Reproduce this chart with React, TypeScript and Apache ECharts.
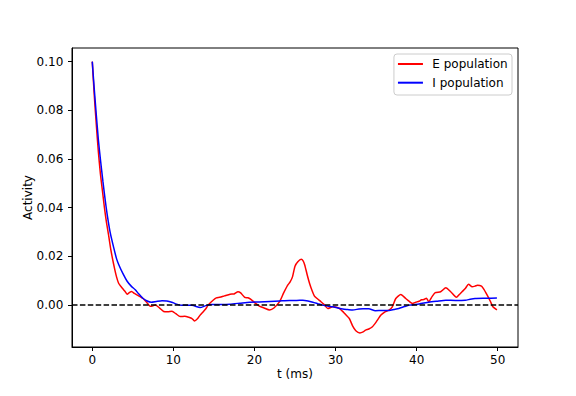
import React, { useEffect, useRef } from "react";
import * as echarts from "echarts";

const seriesNames = ["E population", "I population"];
const seriesColors = ["#ff0000", "#0000ff"];

const tE = [0, 0.25, 0.5, 0.75, 1.0, 1.25, 1.5, 1.75, 2.0, 2.25, 2.5, 2.75, 3.0, 3.25, 3.5, 3.75, 4.0, 4.3, 4.6, 4.85, 5.2, 5.5, 5.9, 6.3, 6.7, 7.16, 7.5, 7.8, 8.3, 8.8, 9.3, 9.83, 10.3, 10.85, 11.4, 11.9, 12.3, 12.6, 13.0, 13.3, 13.6, 14.0, 14.3, 14.9, 15.3, 15.7, 16.3, 17.0, 17.5, 17.97, 18.3, 18.8, 19.2, 19.6, 20.1, 20.6, 21.2, 21.87, 22.4, 23.1, 23.6, 24.1, 24.4, 24.7, 25.0, 25.35, 25.76, 26.0, 26.2, 26.5, 26.8, 27.1, 27.4, 27.8, 28.2, 28.6, 29.04, 29.65, 30.0, 30.5, 31.0, 31.3, 31.7, 32.1, 32.5, 33.0, 33.4, 33.7, 34.1, 34.55, 35.0, 35.6, 36.1, 36.6, 37.0, 37.43, 38.05, 38.66, 39.1, 39.47, 39.9, 40.3, 40.6, 40.9, 41.2, 41.5, 41.9, 42.3, 42.96, 43.6, 44.2, 44.9, 45.3, 45.6, 46.0, 46.4, 46.85, 47.2, 47.5, 48.0, 48.3, 48.7, 49.1, 49.4, 49.9];
const vE = [0.1, 0.086, 0.074, 0.063, 0.054, 0.047, 0.04, 0.034, 0.029, 0.0235, 0.019, 0.015, 0.0115, 0.009, 0.0078, 0.0068, 0.0058, 0.0045, 0.0052, 0.0056, 0.0048, 0.0042, 0.0035, 0.0026, 0.0012, -0.0005, -0.0003, 0.0001, -0.0012, -0.0026, -0.0027, -0.0025, -0.0035, -0.0047, -0.0046, -0.005, -0.0055, -0.0065, -0.0055, -0.0041, -0.003, -0.0015, 0.0001, 0.002, 0.003, 0.0032, 0.0038, 0.0045, 0.0046, 0.0055, 0.005, 0.0032, 0.003, 0.0023, 0.0008, -0.0004, -0.0012, -0.002, -0.0012, 0.0014, 0.005, 0.0082, 0.0095, 0.0117, 0.016, 0.0178, 0.0188, 0.0182, 0.0165, 0.0125, 0.0089, 0.006, 0.0037, 0.0025, 0.0014, 0.0002, -0.0014, -0.0007, -0.0008, -0.0014, -0.003, -0.0041, -0.0055, -0.0085, -0.0105, -0.0114, -0.011, -0.0103, -0.0098, -0.0089, -0.007, -0.0041, -0.0028, -0.002, -0.0007, 0.0027, 0.0044, 0.0027, 0.0015, 0.0007, 0.0012, 0.0016, 0.0022, 0.0023, 0.0028, 0.0014, 0.0035, 0.0051, 0.0055, 0.0071, 0.0055, 0.0032, 0.0045, 0.0055, 0.0068, 0.0086, 0.0075, 0.0078, 0.0082, 0.0078, 0.0065, 0.0041, 0.0015, -0.0007, -0.002];

const tI = [0, 0.25, 0.5, 0.75, 1.0, 1.31, 1.6, 1.84, 2.2, 2.65, 3.0, 3.27, 3.8, 4.3, 4.8, 5.3, 5.7, 6.2, 6.7, 7.28, 7.9, 8.6, 9.2, 9.8, 10.4, 11.05, 12.3, 13.3, 14.0, 14.7, 16.0, 16.95, 18.2, 19.4, 20.6, 21.9, 23.1, 24.3, 25.2, 25.96, 26.6, 27.2, 27.8, 28.4, 29.0, 29.65, 30.3, 30.9, 31.5, 32.1, 32.9, 33.4, 34.1, 34.9, 35.8, 36.6, 37.2, 37.8, 38.5, 39.1, 40.3, 41.5, 42.5, 43.6, 44.8, 46.0, 46.6, 47.2, 48.5, 49.9];
const vI = [0.1, 0.0885, 0.078, 0.068, 0.06, 0.0509, 0.043, 0.0372, 0.03, 0.0235, 0.019, 0.0166, 0.0128, 0.0098, 0.0078, 0.0063, 0.0047, 0.0029, 0.0018, 0.0012, 0.0015, 0.0018, 0.0017, 0.0012, 0.0004, -0.0001, -0.0001, -0.001, -0.0002, 0.0003, 0.0003, 0.0004, 0.0008, 0.0012, 0.0013, 0.0015, 0.0017, 0.0019, 0.0019, 0.002, 0.0017, 0.0012, 0.0006, 0, -0.0004, -0.0007, -0.0012, -0.0016, -0.0018, -0.002, -0.0016, -0.0015, -0.0015, -0.0023, -0.0022, -0.0022, -0.0018, -0.0014, -0.0006, 0, 0.0005, 0.0012, 0.0016, 0.002, 0.0019, 0.002, 0.0024, 0.0027, 0.0028, 0.0029];

const xTicks = [0, 10, 20, 30, 40, 50];
const yTicks = [0, 0.02, 0.04, 0.06, 0.08, 0.1];
const xName = "t (ms)";
const yName = "Activity";

const FONT = "DejaVu Sans";

export default function App() {
  const ref = useRef<HTMLDivElement>(null);
  useEffect(() => {
    if (!ref.current) return;
    const chart = echarts.init(ref.current, undefined, { renderer: "svg" });
    const textStyle = { fontFamily: FONT, fontSize: 12, color: "#000" };
    chart.setOption({
      animation: false,
      backgroundColor: "#fff",
      textStyle: { fontFamily: FONT },
      grid: {
        left: 72,
        top: 48,
        right: 58,
        bottom: 49,
        show: true,
        borderColor: "#000",
        borderWidth: 1,
        backgroundColor: "transparent",
        containLabel: false,
      },
      legend: {
        show: true,
        data: seriesNames,
        orient: "vertical",
        right: 64,
        top: 54,
        icon: "rect",
        itemWidth: 25,
        itemHeight: 2,
        itemGap: 4.7,
        padding: [3, 4.4, 5.3, 4],
        backgroundColor: "#fff",
        borderColor: "#cccccc",
        borderWidth: 1,
        borderRadius: 3,
        selectedMode: false,
        textStyle: { ...textStyle, lineHeight: 14, padding: [0, 0, 0, 4.4] },
      },
      xAxis: {
        type: "value",
        min: -2.5,
        max: 52.5,
        name: xName,
        nameLocation: "middle",
        nameGap: 21,
        nameMoveOverlap: false,
        nameTextStyle: textStyle,
        splitLine: { show: false },
        axisLine: { show: true, onZero: false, lineStyle: { color: "#000", width: 1 } },
        axisTick: { show: true, length: 4, lineStyle: { color: "#000" }, customValues: xTicks },
        axisLabel: { ...textStyle, margin: 7, customValues: xTicks, formatter: (v: number) => String(v) },
      },
      yAxis: {
        type: "value",
        min: -0.0172,
        max: 0.1056,
        name: yName,
        nameLocation: "middle",
        nameGap: 38,
        nameRotate: 90,
        nameMoveOverlap: false,
        nameTextStyle: textStyle,
        splitLine: { show: false },
        axisLine: { show: true, onZero: false, lineStyle: { color: "#000", width: 1 } },
        axisTick: { show: true, length: 4, lineStyle: { color: "#000" }, customValues: yTicks },
        axisLabel: { ...textStyle, margin: 8.7, customValues: yTicks, formatter: (v: number) => v.toFixed(2) },
      },
      series: [
        {
          name: seriesNames[0],
          type: "line",
          data: tE.map((t, i) => [t, vE[i]]),
          showSymbol: false,
          symbol: "none",
          smooth: 0.2,
          color: seriesColors[0],
          lineStyle: { color: seriesColors[0], width: 1.5 },
          z: 2,
        },
        {
          name: seriesNames[1],
          type: "line",
          data: tI.map((t, i) => [t, vI[i]]),
          showSymbol: false,
          symbol: "none",
          smooth: 0.2,
          color: seriesColors[1],
          lineStyle: { color: seriesColors[1], width: 1.5 },
          z: 3,
          markLine: {
            silent: true,
            symbol: "none",
            label: { show: false },
            lineStyle: { color: "#000", type: [5.5, 2.4], width: 1.5 },
            data: [{ yAxis: 0 }],
            z: 4,
          },
        },
      ],
    });
    return () => chart.dispose();
  }, []);
  return <div ref={ref} style={{ width: 576, height: 396, position: "absolute", left: 0, top: 0 }} />;
}
